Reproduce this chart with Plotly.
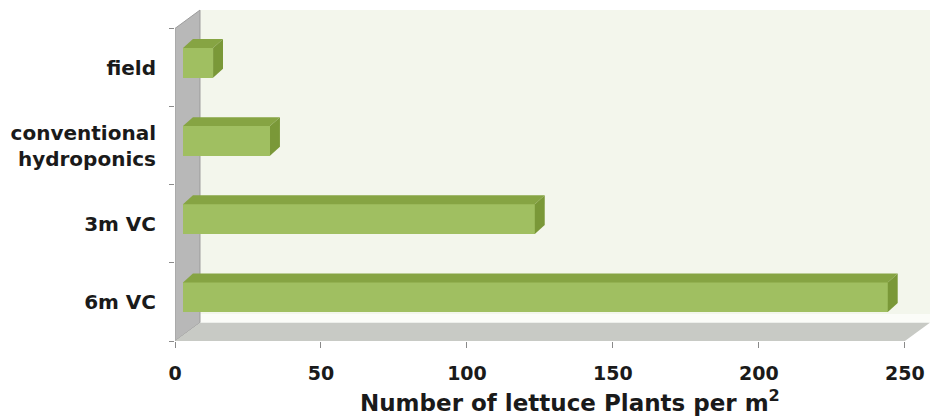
import plotly.graph_objects as go

# ---- data ----
categories = ["field", "conventional<br>hydroponics", "3m VC", "6m VC"]
values = [10.3, 29.8, 120.5, 241.4]
x_ticks = [0, 50, 100, 150, 200, 250]
x_title = "Number of lettuce Plants per m<sup>2</sup>"

# ---- 3D-look geometry (style only) ----
FX, FY, BH = 2.74, -0.06, 0.38      # front-face shift (x units, category units) and bar height
DX, DY = 3.4, 0.115                 # bar depth
WDX, WDY = 8.56, 0.235              # wall depth
XMAX = 258.6
FONT = "DejaVu Sans"

FRONT = "#a0bf61"
TOP = "#86a443"
END = "#7a9838"

fig = go.Figure()

idx = list(range(len(categories)))

# front faces as real bars
fig.add_trace(go.Bar(
    orientation="h", y=[i + FY for i in idx], x=values, base=FX, width=BH,
    marker=dict(color=FRONT, line=dict(width=0)), hoverinfo="skip", showlegend=False))

# top and end faces derived from values
for i, v in zip(idx, values):
    top = i + FY - BH / 2
    bot = i + FY + BH / 2
    fig.add_trace(go.Scatter(
        x=[FX, FX + v, FX + v + DX, FX + DX, FX],
        y=[top, top, top - DY, top - DY, top],
        fill="toself", fillcolor=TOP, mode="lines", line=dict(width=0, color=TOP),
        hoverinfo="skip", showlegend=False))
    fig.add_trace(go.Scatter(
        x=[FX + v, FX + v + DX, FX + v + DX, FX + v, FX + v],
        y=[top, top - DY, bot - DY, bot, top],
        fill="toself", fillcolor=END, mode="lines", line=dict(width=0, color=END),
        hoverinfo="skip", showlegend=False))

ylo, yhi = -0.5, len(categories) - 0.5
shapes = [
    # back wall
    dict(type="rect", xref="x", yref="y", x0=WDX, x1=XMAX, y0=ylo - WDY, y1=yhi - WDY,
         fillcolor="#f3f6ec", line=dict(width=0), layer="below"),
    # highlight at base of back wall
    dict(type="rect", xref="x", yref="y", x0=WDX, x1=XMAX, y0=yhi - WDY - 0.11, y1=yhi - WDY,
         fillcolor="#fbfcf8", line=dict(width=0), layer="below"),
    # side wall
    dict(type="path", xref="x", yref="y",
         path=f"M 0,{ylo} L {WDX},{ylo - WDY} L {WDX},{yhi - WDY} L 0,{yhi} Z",
         fillcolor="#b8b8b8", line=dict(width=1, color="#9c9c9c"), layer="below"),
    # floor
    dict(type="path", xref="x", yref="y",
         path=f"M 0,{yhi} L {x_ticks[-1]},{yhi} L {x_ticks[-1] + WDX},{yhi - WDY} L {WDX},{yhi - WDY} Z",
         fillcolor="#c8cac5", line=dict(width=0), layer="below"),
]

fig.update_layout(
    width=930, height=417,
    margin=dict(l=175, r=0, t=5, b=76),
    paper_bgcolor="white", plot_bgcolor="white",
    shapes=shapes,
    bargap=0,
    xaxis=dict(range=[0, XMAX], tickvals=x_ticks, ticktext=[str(t) for t in x_ticks],
               ticks="outside", ticklen=6, tickcolor="#8a8a8a", showgrid=False, zeroline=False,
               showline=False, ticklabelstandoff=9,
               tickfont=dict(family=FONT, size=19, color="#1a1a1a", weight="bold")),
    yaxis=dict(range=[yhi, -0.8], tickvals=idx, ticktext=categories, ticks="",
               showgrid=False, zeroline=False, showline=False, ticklabelstandoff=18,
               minor=dict(tickvals=[k - 0.5 for k in range(len(categories) + 1)], ticks="outside",
                          ticklen=5, tickcolor="#8a8a8a", showgrid=False),
               tickfont=dict(family=FONT, size=20, color="#1a1a1a", weight="bold")),
    annotations=[dict(text=x_title, xref="paper", yref="paper", x=0.523, y=-0.18,
                      xanchor="center", yanchor="middle", showarrow=False,
                      font=dict(family=FONT, size=23, color="#1a1a1a", weight="bold"))],
)

fig.write_html("out.html")
